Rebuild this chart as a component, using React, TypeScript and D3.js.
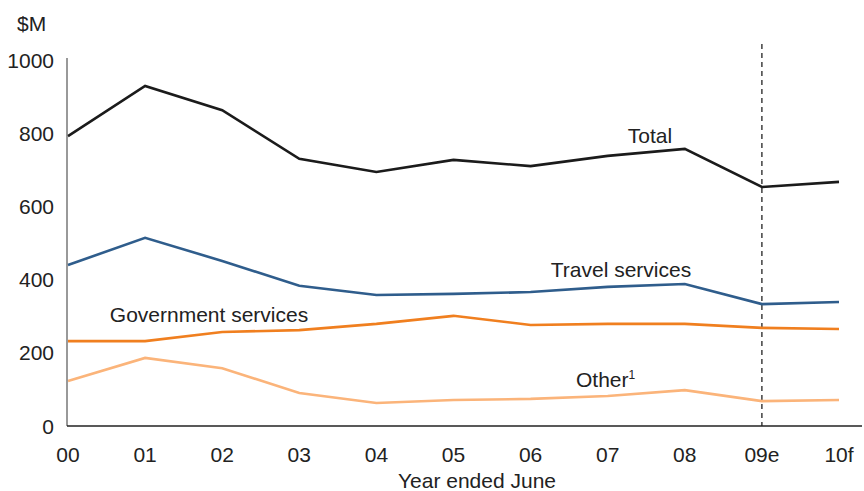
import React from "react";
import * as d3 from "d3";

const categories = ["00", "01", "02", "03", "04", "05", "06", "07", "08", "09e", "10f"];
const totalValues = [792, 929, 863, 730, 694, 727, 710, 738, 757, 653, 667];
const travelValues = [440, 514, 451, 383, 358, 361, 366, 380, 388, 333, 339];
const governmentValues = [232, 232, 257, 262, 279, 301, 276, 279, 279, 268, 265];
const otherValues = [123, 186, 158, 90, 63, 71, 74, 82, 98, 68, 71];
const yTicks = [0, 200, 400, 600, 800, 1000];

const W = 864;
const H = 491;
const FONT = "'Liberation Sans', Arial, Helvetica, sans-serif";
const FS = 21;

export default function App() {
  const x = d3.scalePoint<string>().domain(categories).range([68, 839]);
  const y = d3.scaleLinear().domain([0, 1000]).range([426, 60]);

  const line = d3
    .line<number>()
    .x((_, i) => x(categories[i]) as number)
    .y((d) => y(d));

  const series = [
    { name: "Total", values: totalValues, color: "#1b1b1b" },
    { name: "Travel services", values: travelValues, color: "#2f5d8c" },
    { name: "Government services", values: governmentValues, color: "#f07f1f" },
    { name: "Other", values: otherValues, color: "#fbb47a" },
  ];

  const dashX = x("09e") as number;

  return (
    <svg
      width={W}
      height={H}
      style={{ position: "absolute", left: 0, top: 0, background: "#fff" }}
      fontFamily={FONT}
    >
      <text x={17} y={31} fontSize={FS} fill="#222">$M</text>

      {yTicks.map((t) => (
        <text key={t} x={54} y={y(t)} dy="0.36em" textAnchor="end" fontSize={FS} fill="#222">
          {t}
        </text>
      ))}

      {categories.map((c) => (
        <text key={c} x={x(c) as number} y={462} textAnchor="middle" fontSize={FS} fill="#222">
          {c}
        </text>
      ))}

      <text x={477} y={488} textAnchor="middle" fontSize={FS} fill="#222">Year ended June</text>

      <line x1={dashX} x2={dashX} y1={44} y2={y(0)} stroke="#222" strokeWidth={1.3} strokeDasharray="5,4" />

      {series.map((s) => (
        <path key={s.name} d={line(s.values) || ""} fill="none" stroke={s.color} strokeWidth={2.6} strokeLinejoin="miter" />
      ))}

      <line x1={67} x2={67} y1={58} y2={y(0)} stroke="#555" strokeWidth={1.2} />
      <line x1={67} x2={862} y1={y(0)} y2={y(0)} stroke="#222" strokeWidth={1.5} />

      <text x={650} y={143} textAnchor="middle" fontSize={FS} fill="#222">Total</text>
      <text x={621} y={277} textAnchor="middle" fontSize={FS} fill="#222">Travel services</text>
      <text x={209} y={322} textAnchor="middle" fontSize={FS} fill="#222">Government services</text>
      <text x={576} y={387} fontSize={FS} fill="#222">
        Other<tspan fontSize={12} dy={-8}>1</tspan>
      </text>
    </svg>
  );
}
